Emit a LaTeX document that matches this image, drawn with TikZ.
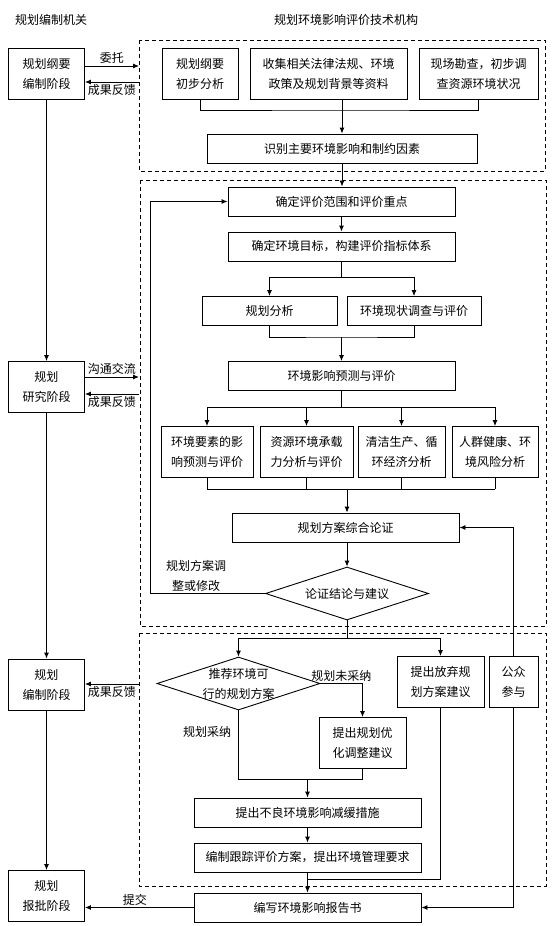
\documentclass[tikz,border=0pt]{standalone}
\usepackage{fontspec}
\newfontfamily\cjk{Noto Sans CJK SC}
\usetikzlibrary{arrows.meta,shapes.geometric}

\newcommand{\wbox}{227pt}   % width of the long boxes
\newcommand{\hone}{29pt}    % one line box
\newcommand{\htwo}{51pt}    % two line box

\begin{document}
\begin{tikzpicture}[x=1pt,y=-1pt,line width=0.9pt,
  every node/.style={font=\cjk\fontsize{12}{20}\selectfont,align=center,inner sep=0pt},
  box/.style={draw,minimum width=#1,minimum height=\hone},
  tbox/.style={draw,minimum width=#1,minimum height=\htwo},
  dia/.style={draw,diamond,aspect=3,minimum width=163pt,minimum height=53pt},
  arr/.style={-{Latex[length=6pt,width=5pt]}},
  dframe/.style={draw,dash pattern=on 4pt off 3pt},
  lab/.style={inner sep=2pt}]
  \useasboundingbox (0,0) rectangle (557,926);
%
  \node (t1) at (51,20) {规划编制机关};
  \node (t2) at (346,20) {规划环境影响评价技术机构};
  % planning side
  \node[tbox=76pt] (a1) at (46.5,73.5) {规划纲要\\编制阶段};
  \node[tbox=76pt] (a2) at (46.5,387) {规划\\研究阶段};
  \node[tbox=76pt] (a3) at (46.5,684.5) {规划\\编制阶段};
  \node[tbox=76pt] (a4) at (46.5,896) {规划\\报批阶段};
  \draw[arr] (a1) -- (a2);
  \draw[arr] (a2) -- (a3);
  \draw[arr] (a3) -- (a4);
  % dashed frames
  \draw[dframe] (139,40) rectangle (545,171);
  \draw[dframe] (140,180) rectangle (546,626);
  \draw[dframe] (139,633) rectangle (546,886);
  \coordinate (w1) at (139,66);
  \coordinate (w2) at (139,82);
  \coordinate (w3) at (139,377);
  \coordinate (w4) at (139,394);
  \coordinate (w5) at (139,684);
  \draw[arr] (a1.east |- w1) -- node[lab,above] {委托} (w1);
  \draw[arr] (w2) -- node[lab,below] {成果反馈} (a1.east |- w2);
  \draw[arr] (a2.east |- w3) -- node[lab,above] {沟通交流} (w3);
  \draw[arr] (w4) -- node[lab,below] {成果反馈} (a2.east |- w4);
  \draw[arr] (w5) -- node[lab,below] {成果反馈} (a3.east |- w5);
  % first frame
  \node[tbox=76pt] (p1) at (200,73.5) {规划纲要\\初步分析};
  \node[tbox=157pt] (p2) at (328.5,73.5) {收集相关法律法规、环境\\政策及规划背景等资料};
  \node[tbox=119pt] (p3) at (478.5,73.5) {现场勘查，初步调\\查资源环境状况};
  \node[box=270pt] (id) at (342,148.5) {识别主要环境影响和制约因素};
  \coordinate (j1) at (342,110);
  \draw (p1.south) |- (j1) -| (p3.south);
  \draw (id.north |- p2.south) -- (j1);
  \draw[arr] (j1) -- (id.north);
  % second frame
  \node[box=\wbox] (s1) at (341.5,201.5) {确定评价范围和评价重点};
  \node[box=\wbox] (s2) at (341.5,246.5) {确定环境目标，构建评价指标体系};
  \draw[arr] (id.south) -- (id.south |- s1.north);
  \draw[arr] (s1) -- (s2);
  \node[box=135pt] (r1) at (269.5,311) {规划分析};
  \node[box=134pt] (r2) at (414,311) {环境现状调查与评价};
  \coordinate (k1) at (341.5,277);
  \draw (s2) -- (k1);
  \draw[arr] (k1) -| (r1.north);
  \draw[arr] (k1) -| (r2.north);
  \node[box=\wbox] (s3) at (341.5,376) {环境影响预测与评价};
  \coordinate (k2) at (341.5,337);
  \draw (r1.south) |- (k2) -| (r2.south);
  \draw[arr] (k2) -- (s3.north);
  \node[tbox=92pt] (q1) at (207,452) {环境要素的影\\响预测与评价};
  \node[tbox=93pt] (q2) at (306.5,452) {资源环境承载\\力分析与评价};
  \node[tbox=87pt] (q3) at (401.5,452) {清洁生产、循\\环经济分析};
  \node[tbox=86pt] (q4) at (495,452) {人群健康、环\\境风险分析};
  \coordinate (k3) at (341.5,407);
  \draw (s3) -- (k3);
  \draw (q1.north |- k3) -- (q4.north |- k3);
  \foreach \q in {q1,q2,q3,q4} \draw[arr] (\q.north |- k3) -- (\q.north);
  \node[box=\wbox] (c1) at (345.5,527.5) {规划方案综合论证};
  \coordinate (k4) at (347,489);
  \draw (q1.south |- k4) -- (q4.south |- k4);
  \foreach \q in {q1,q2,q3,q4} \draw (\q.south) -- (\q.south |- k4);
  \draw[arr] (k4) -- (k4 |- c1.north);
  \node[dia] (d1) at (347,593.5) {论证结论与建议};
  \draw[arr] (k4 |- c1.south) -- (d1.north);
  \coordinate (fb) at (150,593.5);
  \draw[arr] (d1.west) -- node[lab,above,pos=0.6] {规划方案调\\整或修改} (fb) |- (s1.west);
  % third frame
  \coordinate (k5) at (347,638);
  \draw (d1.south) -- (k5);
  \node[dia,label={[align=center]center:推荐环境可\\行的规划方案}] (d2) at (238.5,683.5) {};
  \node[tbox=87pt] (ab) at (440.5,682) {提出放弃规\\划方案建议};
  \node[tbox=49pt] (pub) at (513.5,682) {公众\\参与};
  \draw[arr] (k5) -| (d2.north);
  \draw[arr] (k5) -| (ab.north);
  \node[tbox=87pt] (opt) at (362.5,743) {提出规划优\\化调整建议};
  \draw[arr] (d2.east) -| node[lab,above,pos=0.25] {规划未采纳} (opt.north);
  \node[box=\wbox] (m1) at (307.5,812.5) {提出不良环境影响减缓措施};
  \node[box=\wbox] (m2) at (307.5,857.5) {编制跟踪评价方案，提出环境管理要求};
  \node[box=\wbox] (rep) at (307.5,907.5) {编写环境影响报告书};
  \coordinate (k6) at (307.5,779);
  \draw (d2.south) |- node[lab,left,pos=0.16,xshift=-5pt] {规划采纳} (k6);
  \draw (opt.south) |- (k6);
  \draw[arr] (k6) -- (m1.north);
  \draw[arr] (m1) -- (m2);
  \draw[arr] (m2) -- (rep);
  \coordinate (k7) at (307.5,879);
  \draw (ab.south) |- (k7);
  \draw[arr] (pub.north) |- (c1.east);
  \draw[arr] (pub.south) |- (rep.east);
  \draw[arr] (rep.west) -- node[lab,above,pos=0.54] {提交} (rep.west -| a4.east);
\end{tikzpicture}
\end{document}
